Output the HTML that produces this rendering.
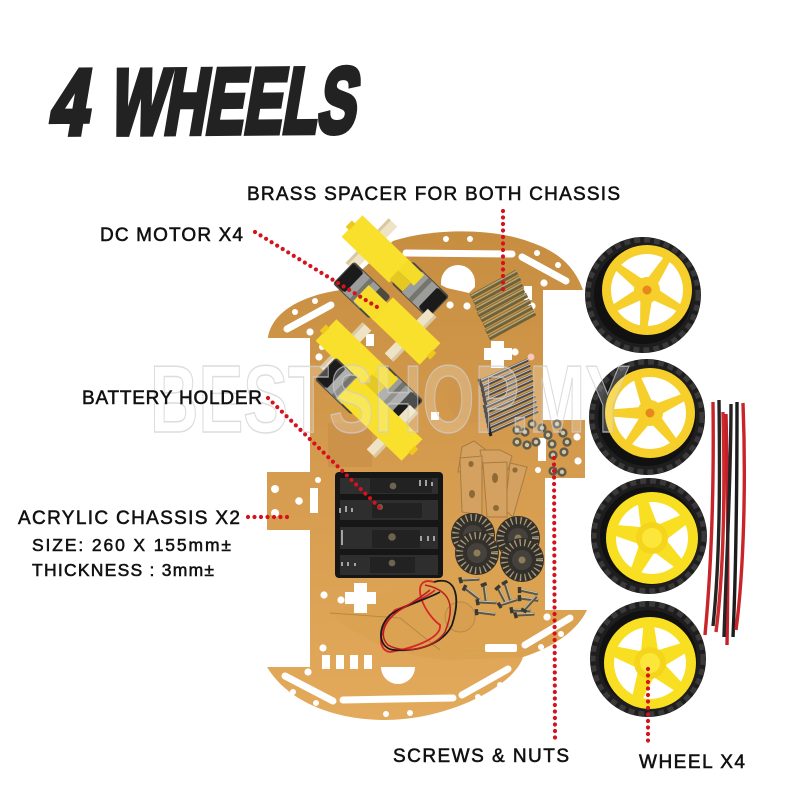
<!DOCTYPE html>
<html><head><meta charset="utf-8"><style>
html,body{margin:0;padding:0;background:#fff;width:800px;height:800px;overflow:hidden}
svg{display:block}
.l{font-family:"Liberation Sans",sans-serif;font-weight:400;font-size:19px;fill:#111;stroke:#111;stroke-width:.55}
.d{fill:none;stroke:#d5121e;stroke-width:4.2;stroke-linecap:round;stroke-dasharray:0 6.5}
.h{fill:#fff}
.s{stroke:#fff;stroke-linecap:round;fill:none}
</style></head><body>
<svg width="800" height="800" viewBox="0 0 800 800" xmlns="http://www.w3.org/2000/svg">
<defs>
<linearGradient id="pl" x1="0" y1="0" x2="0" y2="1"><stop offset="0" stop-color="#c78d40"/><stop offset=".45" stop-color="#d49a4d"/><stop offset="1" stop-color="#e3aa5c"/></linearGradient>
<g id="motor">
<rect x="21" y="-31" width="12" height="62" fill="#efe3c6"/>
<rect x="21" y="-31" width="3" height="62" fill="#d9c8a0"/>
<rect x="68" y="-17" width="51" height="31" rx="3" fill="#4e4a42"/>
<rect x="82" y="-16" width="24" height="29" fill="#9c9c9a"/>
<rect x="91" y="-16" width="5" height="29" fill="#75756f"/>
<rect x="104" y="-15" width="14" height="27" rx="2" fill="#1b1b1b"/>
<rect x="0" y="-15" width="66" height="30" fill="#f8e02c"/>
<rect x="-4" y="-4" width="5" height="9" fill="#eec81c"/>
</g>
<g id="spacer"><path d="M0 0L46 -25" stroke="#6f6238" stroke-width="5"/><path d="M0 -1.2L46 -26.2" stroke="#b3a577" stroke-width="1.6"/></g>
<g id="bolt"><path d="M0 0L49 -22" stroke="#4a4a4a" stroke-width="3.2"/><path d="M0 -.8L49 -22.8" stroke="#c8c8c8" stroke-width="1"/><path d="M0 -3L2 3" stroke="#222" stroke-width="3"/></g>
<g id="nut"><circle r="4.6" fill="#5f5a49"/><circle r="2.2" fill="#cfc6a8"/></g>
<g id="disc"><circle r="22" fill="#33302c"/><circle r="17.5" fill="none" stroke="#a99a78" stroke-width="7" stroke-dasharray="1.3 3.4"/><circle r="10" fill="#45423e"/><circle r="3.5" fill="#8f7c58"/></g>
<g id="sc"><path d="M0 0L17 7" stroke="#5a5648" stroke-width="3"/><path d="M0 -1L17 6" stroke="#c9c2a8" stroke-width="1"/><path d="M0 -3L-1 3" stroke="#3a3a32" stroke-width="3.4"/></g>
<g id="tyre"><circle r="58" fill="#1f1e1e"/><circle r="55" fill="none" stroke="#3a3838" stroke-width="5" stroke-dasharray="6 4"/><circle r="49" fill="#111"/></g>
<path id="spokeA" d="M8 -6L40 -3.5L40 3.5L8 6Z"/>
<path id="spokeB" d="M8 -9L40 -5L40 5L8 9Z"/>
</defs>
<rect width="800" height="800" fill="#fff"/>

<!-- title -->
<g fill="#222" stroke="#222" stroke-width="6" stroke-linejoin="miter" font-family="'Liberation Sans',sans-serif" font-weight="700" font-size="92">
<text transform="translate(48,134) rotate(-.5) skewX(-10)" textLength="38" lengthAdjust="spacingAndGlyphs">4</text>
<text transform="translate(108,134) rotate(-.5) skewX(-10)" textLength="246" lengthAdjust="spacingAndGlyphs">WHEELS</text>
</g>

<!-- plate -->
<path d="M268 337C272 315 295 297 340 290L393 241C430 229 490 227 530 242C560 252 575 268 583 290L543 290L543 420L585 420L585 478L545 478L545 610L587 610C575 635 545 650 523 657C515 685 450 720 385 720C340 720 290 705 267 667L310 667L310 530L267 530L267 472L310 472L310 338L268 338Z" fill="url(#pl)"/>
<path d="M330 613C360 640 400 657 450 660L523 657C545 650 575 635 587 610L545 610L545 560L470 560Z" fill="#dba252"/>
<path d="M330 613L400 618L440 650" fill="none" stroke="#b98842" stroke-width="1"/>
<circle cx="460" cy="617" r="15" fill="#d99f50" stroke="#bb8a44"/>
<circle cx="473" cy="397" r="26" fill="#cf954b"/>
<rect x="328" y="423" width="44" height="44" fill="#cd9249"/>

<!-- holes -->
<g class="h">
<path d="M441 282a17 17 0 0 1 34 0l0 5l-6 6l-22 -5l-6 -3z"/>
<rect x="524" y="286" width="8" height="14"/>
<circle cx="446" cy="239" r="3"/><circle cx="470" cy="239" r="3"/><circle cx="537" cy="253" r="3"/><circle cx="558" cy="265" r="3"/><circle cx="544" cy="283" r="3.6"/><circle cx="450" cy="305" r="3.6"/><circle cx="467" cy="306" r="3.6"/><circle cx="532" cy="306" r="3.6"/><circle cx="315" cy="301" r="3"/><circle cx="295" cy="312" r="3"/><circle cx="310" cy="332" r="3.6"/><circle cx="319" cy="357" r="3.6"/><circle cx="322" cy="347" r="3"/><circle cx="515" cy="352" r="3.6"/><circle cx="531" cy="357" r="3.4" fill="#f5c9c0"/>
<path d="M491 341h13v7h8v12h-8v8h-13v-8h-7v-12h7z"/>
<rect x="431" y="412" width="8" height="8"/>
<rect x="366" y="334" width="8" height="12"/>
<circle cx="577" cy="437" r="3.6"/><circle cx="578" cy="461" r="3.6"/><circle cx="538" cy="470" r="3"/>
<rect x="538" y="438" width="8" height="23"/>
<circle cx="275" cy="489" r="4"/><circle cx="299" cy="501" r="3.8"/><circle cx="275" cy="513" r="4"/><circle cx="318" cy="480" r="3"/>
<rect x="310" y="488" width="8" height="25"/>
<path d="M354 583h13v9h9v12h-9v9h-13v-9h-9v-12h9z"/>
<circle cx="324" cy="595" r="3.6"/><circle cx="341" cy="600" r="3.6"/>
<rect x="322" y="655" width="8" height="14"/><rect x="336" y="655" width="8" height="14"/><rect x="350" y="655" width="8" height="14"/><rect x="364" y="655" width="8" height="14"/>
<path d="M381 667a17 17 0 0 0 34 0z"/>
<circle cx="308" cy="672" r="3.6"/><circle cx="293" cy="692" r="3"/><circle cx="316" cy="703" r="3"/><circle cx="386" cy="714" r="3"/><circle cx="410" cy="713" r="3"/><circle cx="478" cy="697" r="3"/><circle cx="500" cy="685" r="3"/><circle cx="323" cy="648" r="3.6"/><circle cx="547" cy="617" r="3.6"/><circle cx="561" cy="634" r="3"/><circle cx="541" cy="647" r="3"/>
<rect x="485" y="644" width="32" height="8" rx="2"/>
</g>
<g class="s">
<path d="M406 253L512 254" stroke-width="7"/>
<path d="M522 257L566 281" stroke-width="7"/>
<path d="M287 329L331 305" stroke-width="7"/>
<path d="M285 676L333 701" stroke-width="7"/>
<path d="M343 700L453 698" stroke-width="7"/>
<path d="M462 695L508 669" stroke-width="7"/>
<path d="M525 645L570 618" stroke-width="7"/>
</g>

<!-- spacers -->
<use href="#spacer" x="471" y="297"/><use href="#spacer" x="474" y="303"/><use href="#spacer" x="476" y="309"/>
<use href="#spacer" x="478" y="315"/><use href="#spacer" x="481" y="320"/><use href="#spacer" x="484" y="326"/>
<use href="#spacer" x="486" y="332"/><use href="#spacer" x="489" y="338"/>

<!-- bolts -->
<use href="#bolt" x="479" y="382"/><use href="#bolt" x="481" y="387"/><use href="#bolt" x="482" y="392"/><use href="#bolt" x="483" y="397"/><use href="#bolt" x="484" y="402"/><use href="#bolt" x="484" y="408"/><use href="#bolt" x="485" y="413"/><use href="#bolt" x="486" y="418"/><use href="#bolt" x="487" y="423"/><use href="#bolt" x="488" y="428"/><use href="#bolt" x="489" y="433"/>

<!-- nuts -->
<use href="#nut" x="517" y="430"/><use href="#nut" x="525" y="432"/><use href="#nut" x="532" y="424"/><use href="#nut" x="542" y="428"/><use href="#nut" x="548" y="435"/><use href="#nut" x="557" y="424"/><use href="#nut" x="563" y="433"/><use href="#nut" x="567" y="442"/><use href="#nut" x="564" y="452"/><use href="#nut" x="552" y="444"/><use href="#nut" x="536" y="442"/><use href="#nut" x="527" y="445"/><use href="#nut" x="517" y="442"/><use href="#nut" x="553" y="455"/><use href="#nut" x="553" y="471"/><use href="#nut" x="562" y="472"/>

<!-- motors -->
<g transform="translate(352,226) rotate(44)"><use href="#motor"/><rect x="64" y="-15" width="22" height="15" fill="#f5dc28"/><rect x="64" y="0" width="18" height="12" fill="#e6c823"/></g>
<g transform="translate(430,354) rotate(224)"><use href="#motor"/><rect x="64" y="-15" width="28" height="22" fill="#f7de2a"/></g>
<g transform="translate(326,330) rotate(44)"><use href="#motor"/><rect x="64" y="-15" width="22" height="15" fill="#f5dc28"/><rect x="64" y="0" width="18" height="12" fill="#e6c823"/></g>
<g transform="translate(412,450) rotate(224)"><use href="#motor"/><rect x="64" y="-15" width="26" height="30" fill="#f8e02c"/></g>

<!-- brackets -->
<g fill="#d4a160" stroke="#a87c42" stroke-width="1">
<path d="M462 447L474 441L486 450L482 470L458 472Z"/>
<path d="M480 450L500 450L512 456L508 470L484 470Z"/>
<path d="M510 463L527 467L513 517L505 510Z"/>
<path d="M460 458L482 456L482 515L462 512Z"/>
<path d="M483 463L507 462L507 517L487 517Z"/>
</g>
<g fill="#8d6a36"><ellipse cx="471" cy="464" rx="2.6" ry="3"/><ellipse cx="472" cy="494" rx="3" ry="4"/><ellipse cx="495" cy="478" rx="3" ry="5"/><ellipse cx="496" cy="508" rx="3" ry="3"/><circle cx="515" cy="470" r="2.6"/></g>

<!-- discs -->
<use href="#disc" x="473" y="535"/><use href="#disc" x="518" y="538"/><use href="#disc" x="477" y="553"/><use href="#disc" x="522" y="560"/>

<!-- small screws -->
<use href="#sc" transform="translate(461,580) rotate(-25)"/>
<use href="#sc" transform="translate(465,588) rotate(15)"/>
<use href="#sc" transform="translate(484,585) rotate(60)"/>
<use href="#sc" transform="translate(498,588) rotate(40)"/>
<use href="#sc" transform="translate(505,583) rotate(50)"/>
<use href="#sc" transform="translate(520,590) rotate(-10)"/>
<use href="#sc" transform="translate(520,598) rotate(-15)"/>
<use href="#sc" transform="translate(478,602) rotate(-20)"/>
<use href="#sc" transform="translate(477,612) rotate(-15)"/>
<use href="#sc" transform="translate(500,605) rotate(-40)"/>
<use href="#sc" transform="translate(512,610) rotate(-20)"/>
<use href="#sc" transform="translate(516,615) rotate(-25)"/>
<use href="#sc" transform="translate(524,610) rotate(-70)"/>

<!-- battery holder -->
<rect x="335" y="472" width="108" height="106" rx="4" fill="#161616"/>
<g fill="#2e2e2e">
<rect x="340" y="478" width="98" height="16"/><rect x="340" y="500" width="98" height="20"/><rect x="340" y="527" width="98" height="22"/><rect x="340" y="555" width="98" height="20"/>
</g>
<g fill="#222">
<rect x="370" y="478" width="62" height="15"/><rect x="372" y="503" width="50" height="15"/><rect x="372" y="530" width="48" height="18"/><rect x="370" y="557" width="45" height="16"/>
</g>
<g fill="#6e6250"><circle cx="393" cy="486" r="3.4"/><circle cx="392" cy="537" r="3.8"/><circle cx="392" cy="563" r="3.4"/><circle cx="380" cy="507" r="3"/></g>
<g stroke="#d8d8d0" stroke-width="1.4" fill="none"><path d="M340 508v5M346 506v6M352 508v4M420 480v6M426 480v6M432 482v4M421 536v5M428 536v5M434 536v5M342 562v4M348 562v4M355 563v3M342 545V530"/></g>

<!-- battery wires -->
<path d="M434 582C410 575 420 610 440 625C442 640 405 650 390 652C375 650 380 625 395 610C410 605 430 595 435 590" fill="none" stroke="#d6282a" stroke-width="1.8"/>
<path d="M434 582C458 575 460 600 452 625C445 640 425 652 395 650C380 650 375 630 390 615C405 605 425 600 440 592" fill="none" stroke="#1a1a1a" stroke-width="1.8"/>
<path d="M425 585C450 590 456 605 445 632C435 648 405 655 388 645C378 635 385 620 400 610C410 604 420 598 430 590" fill="none" stroke="#b91f22" stroke-width="1.5"/>
<path d="M460 651L485 651" stroke="#c9a74d" stroke-width="1.5" stroke-dasharray="5 2"/>

<!-- wheels -->
<g transform="translate(643,295)"><use href="#tyre"/></g>
<circle cx="647" cy="290" r="45" fill="#f6cf2a"/><circle cx="647" cy="290" r="36" fill="#fff"/>
<g fill="#f6cf2a" transform="translate(647,290)"><use href="#spokeA" transform="rotate(29)"/><use href="#spokeA" transform="rotate(95)"/><use href="#spokeA" transform="rotate(151)"/><use href="#spokeA" transform="rotate(218)"/><use href="#spokeA" transform="rotate(303)"/><circle r="13"/><circle r="4.5" fill="#e8871c"/></g>

<g transform="translate(647,417)"><use href="#tyre"/></g>
<circle cx="650" cy="413" r="45" fill="#f6cf2a"/><circle cx="650" cy="413" r="36" fill="#fff"/>
<g fill="#f6cf2a" transform="translate(650,413)"><use href="#spokeA" transform="rotate(50)"/><use href="#spokeA" transform="rotate(126)"/><use href="#spokeA" transform="rotate(180)"/><use href="#spokeA" transform="rotate(250)"/><use href="#spokeA" transform="rotate(335)"/><circle r="13"/><circle r="4.5" fill="#e8871c"/></g>

<g transform="translate(649,536)"><use href="#tyre"/></g>
<circle cx="652" cy="538" r="46" fill="#f9df22"/><circle cx="652" cy="538" r="36" fill="#fff"/>
<g fill="#f9df22" transform="translate(652,538)"><use href="#spokeB" transform="rotate(44)"/><use href="#spokeB" transform="rotate(116)"/><use href="#spokeB" transform="rotate(192)"/><use href="#spokeB" transform="rotate(256)"/><use href="#spokeB" transform="rotate(330)"/><circle r="16" fill="#f5d41c"/><circle r="10" fill="#fde63a"/></g>

<g transform="translate(648,659)"><use href="#tyre"/></g>
<circle cx="650" cy="663" r="46" fill="#f9df22"/><circle cx="650" cy="663" r="36" fill="#fff"/>
<g fill="#f9df22" transform="translate(650,663)"><use href="#spokeB" transform="rotate(40)"/><use href="#spokeB" transform="rotate(110)"/><use href="#spokeB" transform="rotate(198)"/><use href="#spokeB" transform="rotate(268)"/><use href="#spokeB" transform="rotate(336)"/><circle r="16" fill="#f5d41c"/><circle r="10" fill="#fde63a"/></g>

<!-- wires -->
<g fill="none" stroke-width="3.4">
<path d="M713 402C714 480 712 560 705 635" stroke="#c8252a"/>
<path d="M719 400C720 480 720 560 713 626" stroke="#262323"/>
<path d="M723 412C725 490 724 570 716 632" stroke="#cc2a2e"/>
<path d="M726 414C728 500 728 590 727 645" stroke="#c3202a"/>
<path d="M731 404C731 480 726 570 724 637" stroke="#252323"/>
<path d="M737 402C737 490 736 570 733 637" stroke="#1c1c1c"/>
<path d="M743 403C746 480 744 570 736 630" stroke="#c8252a"/>
</g>

<!-- watermark -->
<text x="150" y="432" font-family="'Liberation Sans',sans-serif" font-weight="700" font-size="96" fill="#fff" fill-opacity=".22" stroke="#cfcfcf" stroke-opacity=".7" stroke-width="1.5" textLength="480" lengthAdjust="spacingAndGlyphs">BESTSHOP.MY</text>

<!-- dotted leaders -->
<path class="d" d="M255 232L377 307"/>
<path class="d" d="M503 211L503 295"/>
<path class="d" d="M268 398L380 508"/>
<path class="d" d="M248 517L293 517"/>
<path class="d" d="M554 458L555 738"/>
<path class="d" d="M648 669L648 746"/>

<!-- labels -->
<text class="l" x="247" y="200" textLength="373" lengthAdjust="spacing">BRASS SPACER FOR BOTH CHASSIS</text>
<text class="l" x="100" y="241" textLength="143" lengthAdjust="spacing">DC MOTOR X4</text>
<text class="l" x="82" y="404" textLength="180" lengthAdjust="spacing">BATTERY HOLDER</text>
<text class="l" x="18" y="524" textLength="222" lengthAdjust="spacing">ACRYLIC CHASSIS X2</text>
<text class="l" x="32" y="551" textLength="199" lengthAdjust="spacing" style="font-size:17.5px">SIZE: 260 X 155mm±</text>
<text class="l" x="32" y="576" textLength="182" lengthAdjust="spacing" style="font-size:17.5px">THICKNESS : 3mm±</text>
<text class="l" x="393" y="762" textLength="176" lengthAdjust="spacing">SCREWS &amp; NUTS</text>
<text class="l" x="639" y="768" textLength="106" lengthAdjust="spacing">WHEEL X4</text>
</svg>
</body></html>
